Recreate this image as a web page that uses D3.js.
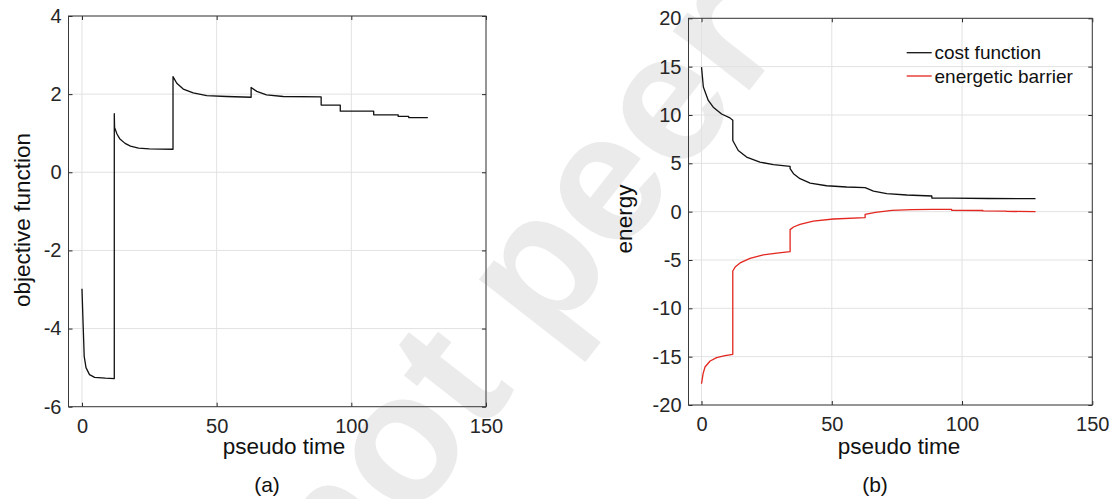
<!DOCTYPE html>
<html><head><meta charset="utf-8">
<script src="https://cdn.jsdelivr.net/npm/d3@7"></script>
<style>
body{margin:0;background:#fff}
svg{display:block}
text{font-family:"Liberation Sans",Arial,Helvetica,sans-serif}
</style>
</head><body>
<svg id="c" width="1110" height="499"></svg>
<script>
// ---------- data ----------
const xTicks = [0, 50, 100, 150];
const objTicks = [-6, -4, -2, 0, 2, 4];
const energyTicks = [-20, -15, -10, -5, 0, 5, 10, 15, 20];
const seriesNames = ["cost function", "energetic barrier"];
const panelLabels = ["(a)", "(b)"];

const objTime  = [0, 0.45, 0.83, 1.5, 2.8, 4.7, 8.7, 12, 12, 12.1, 13, 14, 16, 18, 21, 25, 33.8,
                  33.8, 35.2, 37.6, 41.3, 46.3, 53.7, 62.8, 62.8, 64.9, 68.5, 74.7, 88.8,
                  88.8, 95.9, 95.9, 108.3, 108.3, 117.4, 117.4, 121.3, 121.3, 128.4];
const objValue = [-2.98, -3.94, -4.71, -5.0, -5.18, -5.25, -5.27, -5.28, 1.5, 1.15, 0.98, 0.86, 0.74, 0.67, 0.62, 0.6, 0.59,
                  2.45, 2.28, 2.13, 2.03, 1.96, 1.94, 1.92, 2.17, 2.07, 1.98, 1.94, 1.93,
                  1.72, 1.72, 1.565, 1.565, 1.47, 1.47, 1.43, 1.43, 1.40, 1.40];

const costTime  = [0, 0.7, 2.6, 4.5, 7.7, 10.9, 12, 12, 14.1, 17.3, 22.4, 27.6, 34,
                   34, 35.3, 37.8, 41.7, 48, 55.7, 62.8, 66, 71.1, 78.8, 88.4,
                   88.4, 96, 110, 128.2];
const costValue = [14.95, 12.9, 11.5, 10.8, 10.1, 9.7, 9.45, 7.36, 6.33, 5.65, 5.13, 4.86, 4.69,
                   4.45, 3.93, 3.41, 2.96, 2.68, 2.55, 2.48, 2.13, 1.86, 1.72, 1.62,
                   1.41, 1.39, 1.36, 1.34];

const barrierTime  = [0, 0.6, 1.34, 3.3, 5.8, 9, 12, 12, 12.9, 14.8, 18.6, 23.7, 28.9, 34,
                      34, 35.3, 37.8, 42.9, 50.6, 62.8, 62.8, 66.8, 73.1, 80.8, 88.4, 96,
                      96, 108, 108, 117, 117, 128.2];
const barrierValue = [-17.8, -16.75, -16.07, -15.45, -15.1, -14.9, -14.76, -6.14, -5.73, -5.3, -4.83, -4.48, -4.28, -4.14,
                      -1.86, -1.59, -1.31, -0.97, -0.76, -0.62, -0.28, -0.07, 0.13, 0.2, 0.24, 0.24,
                      0.14, 0.12, 0.08, 0.06, 0.03, 0.0];

// ---------- drawing ----------
const svg = d3.select("#c");
const INK = "#262626";
const fmt = d => String(d);   // plain hyphen-minus like the reference

// watermark (behind everything)
svg.append("text")
  .attr("transform", "translate(341,613) rotate(-52)")
  .attr("font-size", 183)
  .attr("font-weight", "bold")
  .attr("fill", "#ebebeb")
  .text("not peer");

function panel(cfg) {
  const x = d3.scaleLinear().domain([-5, 150]).range([cfg.x0, cfg.x1]);
  const y = d3.scaleLinear().domain(cfg.yDomain).range([cfg.y1, cfg.y0]);
  const g = svg.append("g");

  // grid
  g.append("g").selectAll("line").data(xTicks).join("line")
    .attr("x1", d => x(d)).attr("x2", d => x(d))
    .attr("y1", cfg.y0).attr("y2", cfg.y1)
    .attr("stroke", "#e2e2e2").attr("stroke-width", 1);
  g.append("g").selectAll("line").data(cfg.yTicks).join("line")
    .attr("y1", d => y(d)).attr("y2", d => y(d))
    .attr("x1", cfg.x0).attr("x2", cfg.x1)
    .attr("stroke", "#e2e2e2").attr("stroke-width", 1);

  // series
  const line = d3.line().x(d => x(d[0])).y(d => y(d[1]));
  cfg.series.forEach(s => {
    g.append("path")
      .datum(d3.zip(s.t, s.v))
      .attr("d", line)
      .attr("fill", "none")
      .attr("stroke", s.color)
      .attr("stroke-width", 1.3)
      .attr("stroke-linejoin", "round");
  });

  // axes
  const styleAxis = sel => {
    sel.select(".domain").remove();
    sel.selectAll(".tick line").attr("stroke", INK);
    sel.selectAll(".tick text").attr("fill", INK).attr("font-size", 20).attr("font-family", null);
  };
  g.append("g").attr("transform", `translate(0,${cfg.y1})`)
    .call(d3.axisBottom(x).tickValues(xTicks).tickFormat(fmt).tickSizeInner(-4).tickSizeOuter(0).tickPadding(12))
    .call(styleAxis);
  g.append("g").attr("transform", `translate(0,${cfg.y0})`)
    .call(d3.axisTop(x).tickValues(xTicks).tickSizeInner(-4).tickSizeOuter(0).tickFormat(""))
    .call(styleAxis);
  g.append("g").attr("transform", `translate(${cfg.x0},0)`)
    .call(d3.axisLeft(y).tickValues(cfg.yTicks).tickFormat(fmt).tickSizeInner(-4).tickSizeOuter(0).tickPadding(7))
    .call(styleAxis);
  g.append("g").attr("transform", `translate(${cfg.x1},0)`)
    .call(d3.axisRight(y).tickValues(cfg.yTicks).tickSizeInner(-4).tickSizeOuter(0).tickFormat(""))
    .call(styleAxis);

  // box
  g.append("rect")
    .attr("x", cfg.x0).attr("y", cfg.y0)
    .attr("width", cfg.x1 - cfg.x0).attr("height", cfg.y1 - cfg.y0)
    .attr("fill", "none").attr("stroke", "#3a3a3a").attr("stroke-width", 1);

  // labels
  g.append("text").attr("x", cfg.xLabelX).attr("y", 454)
    .attr("text-anchor", "middle").attr("font-size", 22.5).attr("fill", "#111")
    .text("pseudo time");
  g.append("text")
    .attr("transform", `translate(${cfg.yLabelX},${cfg.yLabelY}) rotate(-90)`)
    .attr("text-anchor", "middle").attr("font-size", 22.5).attr("fill", "#111")
    .text(cfg.yLabel);
  g.append("text").attr("x", cfg.panelX).attr("y", 492)
    .attr("text-anchor", "middle").attr("font-size", 21).attr("fill", "#111")
    .text(cfg.panelLabel);
  return {x, y, g};
}

panel({
  x0: 68.5, x1: 486, y0: 16, y1: 406.7, yDomain: [-6, 4], yTicks: objTicks,
  series: [{t: objTime, v: objValue, color: "#111"}],
  xLabelX: 284, yLabelX: 30, yLabelY: 220, yLabel: "objective function",
  panelX: 267, panelLabel: panelLabels[0]
});

panel({
  x0: 688.5, x1: 1092.3, y0: 18.3, y1: 405, yDomain: [-20, 20], yTicks: energyTicks,
  series: [{t: costTime, v: costValue, color: "#111"}, {t: barrierTime, v: barrierValue, color: "#e3261f"}],
  xLabelX: 899, yLabelX: 631.5, yLabelY: 219, yLabel: "energy",
  panelX: 875, panelLabel: panelLabels[1]
});

// legend
const legColors = ["#111", "#e3261f"];
const leg = svg.append("g");
seriesNames.forEach((name, i) => {
  const ly = 52.7 + i * 23.3;
  leg.append("line").attr("x1", 906.7).attr("x2", 931.7).attr("y1", ly).attr("y2", ly)
    .attr("stroke", legColors[i]).attr("stroke-width", 1.3);
  leg.append("text").attr("x", 934.5).attr("y", ly).attr("dy", "0.35em")
    .attr("font-size", 19).attr("fill", "#111").text(name);
});
</script>
</body></html>
